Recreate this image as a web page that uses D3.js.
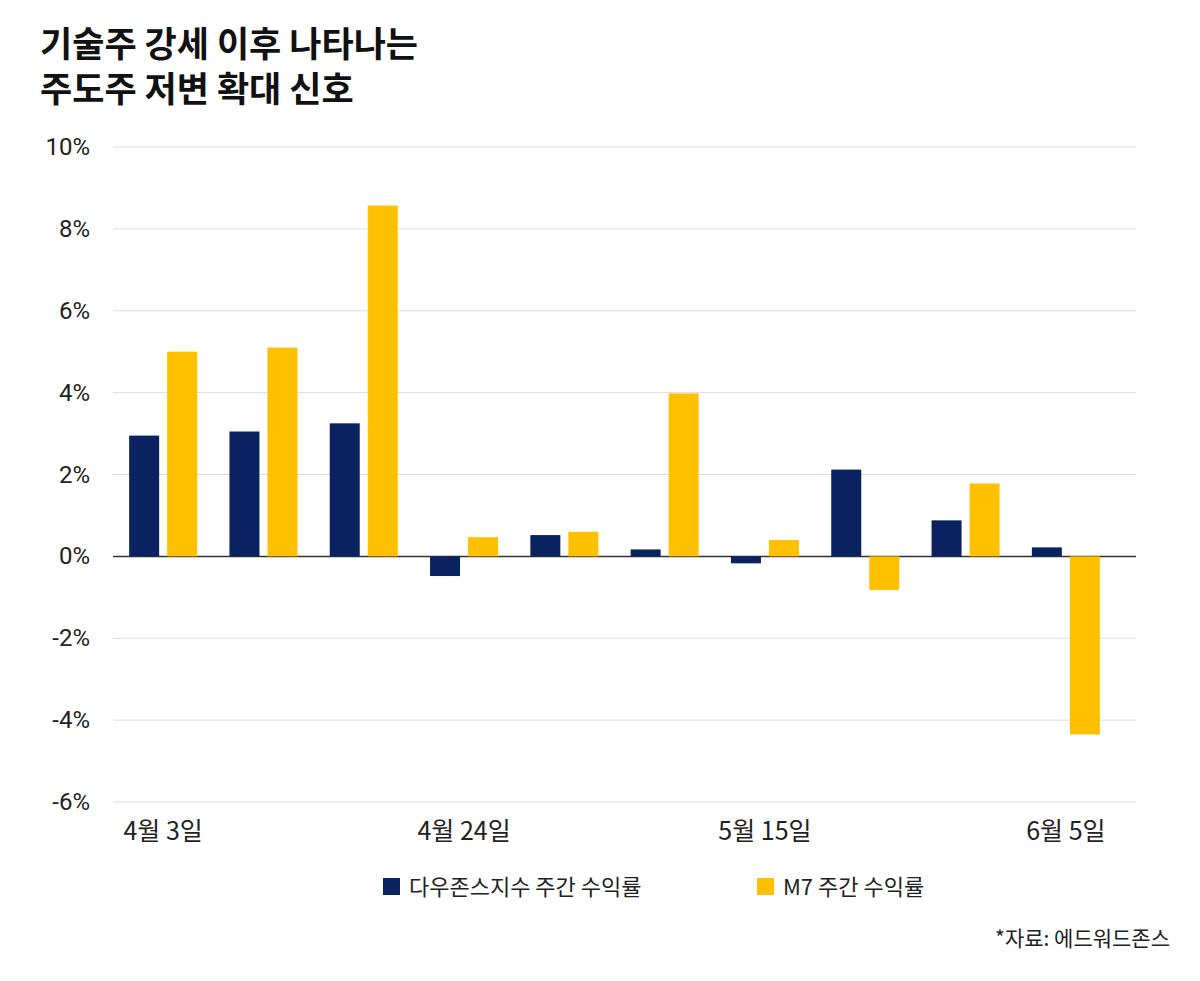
<!DOCTYPE html>
<html><head><meta charset="utf-8">
<script src="https://cdn.jsdelivr.net/npm/d3@7"></script>
<style>body{margin:0;background:#fff;font-family:"Noto Sans CJK KR","Noto Sans",sans-serif}</style>
</head><body>
<svg id="chart" width="1200" height="981"></svg>
<script>
// weekly returns (%)
var weeks = ["4월 3일","4월 10일","4월 17일","4월 24일","5월 1일","5월 8일","5월 15일","5월 22일","5월 29일","6월 5일"];
var dowVals = [2.95, 3.05, 3.25, -0.48, 0.52, 0.17, -0.17, 2.12, 0.88, 0.22];
var m7Vals = [5.0, 5.1, 8.57, 0.47, 0.6, 3.98, 0.4, -0.82, 1.78, -4.35];
var yTicks = [10, 8, 6, 4, 2, 0, -2, -4, -6];
var shownTicks = ["4월 3일","4월 24일","5월 15일","6월 5일"];
var seriesNames = ["다우존스지수 주간 수익률", "M7 주간 수익률"];
var colors = ["#0b2260", "#ffc000"];

var svg = d3.select("#chart");
var left = 113, right = 1136;

var x = d3.scaleBand().domain(weeks).range([113, 1116]);
var y = d3.scaleLinear().domain([-6, 10]).range([802, 147]);

svg.append("text").attr("x", 40).attr("y", 57).attr("font-size", 35).attr("font-weight", 700)
  .attr("fill", "#111").text("기술주 강세 이후 나타나는");
svg.append("text").attr("x", 40).attr("y", 102).attr("font-size", 35).attr("font-weight", 700)
  .attr("fill", "#111").text("주도주 저변 확대 신호");

var g = svg.append("g");
g.selectAll("line.grid").data(yTicks).enter().append("line")
  .attr("x1", left).attr("x2", right)
  .attr("y1", d => y(d)).attr("y2", d => y(d))
  .attr("stroke", d => d === 0 ? "#333" : "#dcdcdc")
  .attr("stroke-width", d => d === 0 ? 1.5 : 1);

g.selectAll("text.ylab").data(yTicks).enter().append("text")
  .attr("x", 90).attr("y", d => y(d) + 8)
  .attr("text-anchor", "end").attr("font-size", 24).attr("fill", "#222")
  .attr("font-family", "Roboto, sans-serif")
  .text(d => d + "%");

var bw = 30, gap = 8;
var off = (x.bandwidth() - (2 * bw + gap)) / 2;

g.selectAll("rect.dow").data(dowVals).enter().append("rect")
  .attr("x", (d, i) => x(weeks[i]) + off)
  .attr("width", bw)
  .attr("y", d => y(Math.max(0, d)))
  .attr("height", d => Math.abs(y(d) - y(0)))
  .attr("fill", colors[0]);

g.selectAll("rect.m7").data(m7Vals).enter().append("rect")
  .attr("x", (d, i) => x(weeks[i]) + off + bw + gap)
  .attr("width", bw)
  .attr("y", d => y(Math.max(0, d)))
  .attr("height", d => Math.abs(y(d) - y(0)))
  .attr("fill", colors[1]);

g.selectAll("text.xlab").data(shownTicks).enter().append("text")
  .attr("x", d => x(d) + x.bandwidth() / 2)
  .attr("y", 840).attr("text-anchor", "middle")
  .attr("font-size", 25).attr("fill", "#222").text(d => d);

var lx = [383, 757];
seriesNames.forEach(function(n, i) {
  svg.append("rect").attr("x", lx[i]).attr("y", 878).attr("width", 17).attr("height", 17).attr("fill", colors[i]);
  svg.append("text").attr("x", lx[i] + 26).attr("y", 895).attr("font-size", 22).attr("fill", "#222").text(n);
});

svg.append("text").attr("x", 1170).attr("y", 946).attr("text-anchor", "end")
  .attr("font-size", 21).attr("fill", "#222").text("*자료: 에드워드존스");
</script>
</body></html>
